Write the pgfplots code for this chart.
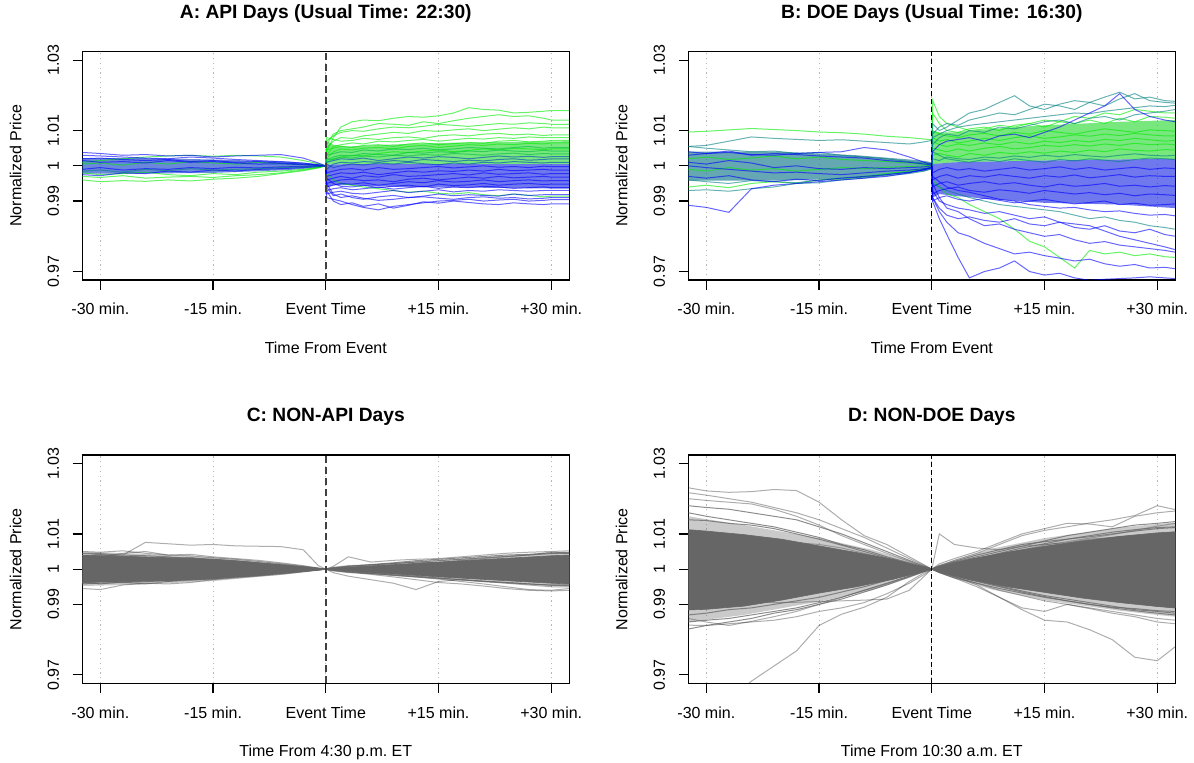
\documentclass[border=0pt]{standalone}
\usepackage{fontspec}
\setmainfont{Liberation Sans}
\usepackage{pgfplots}
\usepackage{pgfplotstable}
\pgfplotsset{compat=1.18}

\definecolor{cg}{RGB}{0,235,0}
\definecolor{cgt}{RGB}{0,190,64}
\definecolor{ct}{RGB}{0,128,128}
\definecolor{cbt}{RGB}{0,64,190}
\definecolor{cb}{RGB}{0,0,255}
\definecolor{fgreen}{RGB}{30,215,40}
\definecolor{fblue}{RGB}{15,30,225}
\definecolor{fpre}{RGB}{25,70,200}
\definecolor{fteal}{RGB}{20,120,140}

% ---------------- Panel A: pre-event (values: deviation from 1 in 1e-4) ----
\pgfplotstableread{
id  t1 t2 t3 t4 t5 t6 t7 t8 t9 t10 t11 t12 t13
x   -32.4 -30 -27 -24 -21 -18 -15 -12 -9 -6 -3 -1 0
pg1 -40 -45 -42 -44 -40 -43 -38 -35 -30 -22 -14 -6 0
pg2 -30 -33 -28 -35 -32 -30 -33 -28 -25 -20 -12 -5 0
pg3 10 15 20 25 28 30 27 30 28 25 15 6 0
pg4 -20 -25 -22 -18 -25 -28 -22 -25 -18 -15 -10 -4 0
pg5 5 8 2 10 5 12 8 5 10 6 4 2 0
pb1 38 35 30 32 28 30 25 28 30 32 22 8 0
pb2 30 28 25 22 20 25 22 18 15 12 8 3 0
pb3 -25 -28 -20 -22 -15 -18 -12 -15 -10 -8 -5 -2 0
pb4 15 10 12 8 15 10 12 8 5 6 3 1 0
pb5 -10 -5 -12 -8 -10 -5 -8 -4 -6 -3 -2 -1 0
pb6 20 22 18 15 18 12 15 10 12 8 5 2 0
pt1 -15 -12 -18 -10 -14 -8 -12 -10 -8 -5 -3 -1 0
}\rawApre
\pgfplotstabletranspose[colnames from=id]\Apre{\rawApre}

\pgfplotstableread{
id t1 t2 t3 t4 t5 t6 t7 t8 t9 t10 t11 t12 t13 t14 t15 t16 t17 t18 t19 t20
x 0 0.1 1 2 3.5 5 7 9 11 13 15 17 19 21 23 25 27 29 30 32.4
ag1 0 40 80 110 125 130 128 135 140 138 142 150 165 160 158 150 152 155 157 157
ag2 0 60 90 100 105 110 120 118 115 125 120 128 135 140 145 140 142 135 130 130
ag3 0 70 85 95 100 98 105 110 108 112 118 115 112 116 120 118 122 120 118 118
ag4 0 50 70 80 78 85 90 95 92 100 98 102 105 100 104 108 105 110 108 108
ag5 0 80 75 70 72 78 75 80 82 78 85 88 85 90 92 88 90 86 88 88
ag6 0 30 55 60 65 62 70 68 72 75 70 74 78 76 80 78 82 80 80 80
ag7 0 45 50 55 52 58 60 55 62 65 60 63 66 64 70 72 68 70 72 72
ag8 0 20 40 48 45 50 52 48 55 58 52 56 60 58 62 60 64 62 65 65
at1 0 30 35 40 38 45 42 48 46 50 45 48 52 50 48 52 55 50 52 52
at2 0 15 25 30 28 35 32 30 38 36 40 38 42 40 45 42 40 44 42 42
at3 0 20 18 25 22 28 25 30 28 32 30 35 33 30 34 36 32 35 34 34
at4 0 10 15 20 18 22 15 20 25 22 26 24 20 24 28 25 27 24 26 26
at5 0 -10 5 10 8 12 10 15 12 18 15 12 16 14 18 20 16 18 20 20
at6 0 5 -5 0 5 2 8 5 10 6 3 8 5 10 8 12 10 8 10 10
ab1 0 -20 -15 -10 -8 -12 -5 -10 -8 -5 -2 -6 -3 0 -4 -2 -5 -1 -2 -2
ab2 0 -30 -25 -20 -22 -18 -25 -20 -15 -18 -14 -16 -12 -15 -10 -14 -12 -10 -12 -12
ab3 0 -40 -35 -30 -35 -28 -32 -25 -30 -28 -25 -22 -26 -20 -24 -22 -20 -24 -22 -22
ab4 0 -50 -45 -40 -38 -42 -40 -45 -38 -35 -40 -36 -32 -35 -30 -34 -32 -30 -32 -32
ab5 0 -60 -55 -50 -52 -48 -55 -50 -45 -48 -42 -46 -44 -40 -45 -42 -40 -43 -42 -42
ab6 0 -35 -50 -58 -60 -55 -62 -58 -55 -60 -52 -56 -54 -50 -55 -52 -50 -53 -52 -52
ab7 0 -70 -65 -62 -68 -65 -60 -66 -62 -58 -64 -60 -62 -58 -60 -64 -62 -60 -62 -62
ab8 0 -80 -75 -72 -78 -80 -75 -70 -76 -72 -68 -74 -70 -72 -68 -70 -72 -70 -70 -70
ab9 0 -60 -85 -80 -90 -95 -88 -84 -90 -86 -80 -85 -82 -84 -86 -80 -84 -82 -82 -82
ab10 0 -90 -95 -100 -110 -118 -125 -115 -110 -105 -100 -98 -95 -100 -97 -95 -100 -98 -96 -96
ab11 0 -70 -100 -110 -105 -115 -108 -120 -112 -102 -106 -100 -104 -108 -110 -105 -108 -110 -108 -108
ab12 0 -50 -80 -90 -85 -92 -98 -95 -90 -88 -92 -95 -90 -88 -92 -90 -94 -92 -90 -90
agl1 0 -20 -40 -50 -55 -60 -65 -70 -75 -72 -78 -80 -76 -82 -85 -80 -84 -88 -86 -86
agl2 0 10 20 25 30 28 35 40 38 42 45 40 44 48 45 50 48 46 48 48
}\rawApost
\pgfplotstabletranspose[colnames from=id]\Apost{\rawApost}

% ---------------- Panel B ----------------
\pgfplotstableread{
id  t1 t2 t3 t4 t5 t6 t7 t8 t9 t10 t11 t12 t13
x   -32.4 -30 -27 -24 -21 -18 -15 -12 -9 -6 -3 -1 0
bgtop 96 98 102 106 103 100 96 94 90 84 80 76 74
bttop 55 58 70 82 78 75 72 74 70 66 62 68 72
bbbump 30 35 38 32 30 35 38 40 52 45 25 10 5
bblow -112 -118 -132 -65 -55 -50 -45 -40 -35 -30 -20 -10 -5
btlow -70 -68 -72 -65 -60 -50 -48 -40 -35 -25 -18 -10 -3
bglow -60 -55 -62 -50 -45 -50 -40 -38 -30 -22 -15 -8 -2
b1 40 35 42 30 35 32 28 25 22 15 10 5 2
b2 -30 -35 -28 -40 -45 -38 -42 -35 -30 -25 -18 -12 -5
b3 10 5 15 8 -5 0 -8 -10 -5 -8 -5 -3 0
g1 20 25 18 22 28 20 25 18 15 12 8 5 3
g2 -10 -15 -5 -12 -8 -15 -10 -5 -8 -4 -2 0 2
t1 55 50 45 40 42 35 38 30 25 20 12 8 4
t2 -40 -45 -50 -42 -45 -48 -40 -35 -32 -28 -22 -15 -8
b4 0 -5 -10 -15 -20 -18 -22 -25 -20 -15 -12 -8 -5
}\rawBpre
\pgfplotstabletranspose[colnames from=id]\Bpre{\rawBpre}

\pgfplotstableread{
id t1 t2 t3 t4 t5 t6 t7 t8 t9 t10 t11 t12 t13 t14 t15 t16 t17 t18 t19 t20
x 0 0.1 1 2 3.5 5 7 9 11 13 15 17 19 21 23 25 27 29 31 32.4
bpt1 0 120 100 110 130 150 160 180 199 170 160 175 185 180 170 190 205 185 180 178
bpt2 0 90 110 120 115 130 140 150 145 160 175 170 160 180 195 209 190 195 185 183
bpg1 0 186 140 120 110 100 105 115 110 120 130 125 140 135 150 145 160 155 150 150
bpg2 0 150 120 100 95 105 110 100 115 120 110 125 120 130 120 135 125 140 138 135
bpt3 0 60 80 90 85 100 95 110 105 115 125 130 120 135 140 130 145 150 155 160
bpb1 0 40 60 70 75 80 70 85 90 80 95 110 130 150 170 205 160 140 130 125
bpg3 0 100 90 85 80 88 92 85 95 90 100 95 90 98 105 100 95 102 100 98
bpg4 0 80 70 75 65 70 78 72 80 85 78 82 88 84 90 86 92 88 85 85
bpg5 0 70 60 55 62 58 65 60 68 62 70 66 72 68 75 72 78 74 70 72
bpg6 0 50 45 40 48 42 50 55 48 52 58 55 60 56 62 58 64 60 62 60
bpg7 0 30 35 30 25 35 30 38 34 40 36 42 38 45 40 48 44 42 46 45
bpt4 0 20 15 25 20 18 25 22 28 24 30 26 32 28 25 30 34 30 28 30
bpt5 0 40 30 20 15 10 18 12 20 15 10 18 14 20 16 12 18 22 20 18
bpt7 0 80 90 100 110 115 120 125 130 135 140 145 150 148 155 160 165 170 168 172
bpb2 0 -20 -10 -5 -12 -8 -15 -10 -5 -12 -8 -3 -10 -5 -12 -8 -4 -10 -6 -8
bpb3 0 -40 -30 -25 -35 -28 -32 -25 -30 -35 -28 -32 -26 -34 -30 -25 -32 -28 -30 -30
bpb4 0 -60 -50 -45 -55 -50 -45 -52 -48 -55 -60 -52 -58 -55 -50 -58 -55 -60 -56 -58
bpb5 0 -80 -70 -65 -60 -70 -75 -68 -72 -78 -70 -75 -80 -76 -82 -78 -85 -80 -82 -84
bpb6 0 -100 -90 -85 -95 -100 -92 -98 -105 -100 -95 -102 -108 -104 -100 -110 -106 -112 -110 -108
bpb8 0 -30 -45 -60 -70 -75 -85 -95 -100 -110 -115 -120 -118 -125 -130 -128 -135 -140 -138 -142
bpt6 0 -50 -60 -70 -80 -90 -100 -110 -115 -120 -125 -130 -140 -150 -145 -155 -160 -170 -175 -180
bpb7 0 -90 -120 -140 -150 -145 -155 -160 -150 -165 -170 -160 -175 -180 -170 -185 -190 -180 -195 -200
bpbx1 0 -100 -150 -195 -260 -318 -300 -290 -270 -300 -310 -305 -318 -325 -322 -320 -318 -315 -318 -320
bpbx2 0 -90 -130 -160 -190 -200 -220 -235 -250 -245 -255 -262 -270 -265 -278 -285 -280 -290 -288 -292
bpgx 0 -40 -60 -80 -90 -110 -130 -150 -180 -214 -230 -260 -290 -240 -250 -245 -255 -250 -258 -260
bpbx3 0 -50 -90 -120 -130 -150 -170 -165 -180 -190 -200 -195 -210 -220 -215 -225 -230 -235 -240 -245
bpbx4 0 -70 -100 -110 -120 -125 -135 -130 -140 -150 -145 -160 -165 -170 -185 -200 -210 -220 -230 -238
}\rawBpost
\pgfplotstabletranspose[colnames from=id]\Bpost{\rawBpost}

% ---------------- Panel C ----------------
\pgfplotstableread{
id t1 t2 t3 t4 t5 t6 t7 t8 t9 t10 t11 t12 t13 t14 t15 t16 t17 t18 t19 t20 t21 t22 t23 t24 t25
x -32.4 -30 -27 -24 -21 -18 -15 -12 -9 -6 -3 -1 0 1 3 6 9 12 15 18 21 24 27 30 32.4
c1 35 38 40 76 72 68 70 66 65 64 55 10 0 5 10 12 15 20 18 22 25 28 30 32 32
c2 -55 -58 -45 -40 -42 -38 -30 -25 -20 -15 -8 -3 0 -3 -8 -15 -22 -30 -38 -42 -48 -55 -60 -62 -60
c3 50 48 52 45 40 42 35 30 25 18 10 3 0 8 35 20 25 28 30 35 40 45 48 50 52
c4 -20 -25 -22 -30 -35 -28 -25 -20 -15 -10 -5 -2 0 -10 -20 -30 -40 -58 -35 -30 -35 -40 -45 -50 -50
c5 30 35 45 50 40 38 32 28 22 15 8 3 0 3 5 8 10 15 18 25 30 35 40 48 45
c6 -40 -35 -38 -42 -35 -32 -28 -22 -18 -12 -6 -2 0 -5 -10 -12 -18 -22 -28 -35 -42 -50 -58 -60 -55
cf1 45 44 40 38 35 30 28 24 18 12 6 2 0 4 8 12 16 20 24 28 32 36 40 44 45
cf2 -42 -40 -38 -36 -32 -30 -28 -22 -18 -12 -6 -2 0 -4 -8 -13 -17 -22 -26 -30 -34 -38 -42 -46 -46
cf3 38 42 36 34 30 33 26 22 16 10 5 2 0 -3 -7 -12 -16 -20 -25 -30 -35 -38 -42 -45 -45
cf4 -38 -42 -36 -33 -30 -28 -25 -20 -16 -10 -5 -2 0 3 8 13 18 24 28 32 36 40 42 46 48
}\rawC
\pgfplotstabletranspose[colnames from=id]\Cdat{\rawC}

% ---------------- Panel D ----------------
\pgfplotstableread{
id t1 t2 t3 t4 t5 t6 t7 t8 t9 t10 t11 t12 t13 t14 t15 t16 t17 t18 t19 t20 t21 t22 t23 t24 t25
x -32.4 -30 -27 -24 -21 -18 -15 -12 -9 -6 -3 -1 0 1 3 6 9 12 15 18 21 24 27 30 32.4
d1 231 222 218 220 226 223 190 140 95 70 35 12 0 5 10 15 20 25 30 28 35 40 38 45 42
d2 -420 -400 -370 -318 -275 -232 -160 -128 -108 -80 -35 -10 0 -3 -8 -12 -20 -25 -30 -28 -35 -40 -45 -42 -44
d3 -159 -160 -155 -150 -145 -135 -120 -110 -95 -70 -40 -15 0 -5 -12 -20 -28 -35 -42 -50 -55 -60 -65 -70 -72
d4 -90 -95 -92 -90 -95 -94 -92 -90 -88 -85 -60 -20 0 5 10 8 12 15 10 18 20 15 22 25 20
d5 60 55 50 45 48 40 35 30 22 15 8 3 0 -8 -20 -45 -80 -115 -145 -150 -172 -200 -250 -260 -220
d6 -50 -45 -40 -42 -38 -35 -30 -25 -20 -14 -8 -3 0 10 25 45 70 95 110 120 131 140 152 180 169
d7 20 25 30 28 25 20 15 12 10 6 3 1 0 15 30 50 75 100 115 130 128 120 150 160 165
d8 -60 -65 -55 -50 -45 -40 -35 -28 -20 -12 -6 -2 0 100 70 60 55 65 70 75 85 90 95 100 105
d9 217 210 200 190 175 160 140 115 90 60 30 10 0 -5 -12 -20 -30 -40 -55 -65 -75 -85 -95 -105 -110
d10 100 95 90 85 80 75 70 60 45 30 15 5 0 -10 -25 -50 -80 -110 -120 -100 -110 -120 -130 -140 -145
d11 200 195 190 185 170 150 125 95 70 45 22 7 0 8 18 30 42 55 68 78 88 98 110 122 130
d12 -140 -150 -160 -148 -135 -120 -100 -80 -60 -42 -20 -6 0 -10 -25 -40 -60 -75 -90 -100 -112 -125 -135 -150 -155
df1 180 175 170 160 150 140 120 100 75 50 25 8 0 8 20 35 50 65 80 95 105 115 125 130 135
df2 160 150 140 130 120 105 90 70 55 35 18 6 0 -8 -20 -35 -50 -65 -78 -90 -100 -110 -118 -125 -130
df3 -150 -145 -140 -130 -120 -110 -95 -80 -60 -40 -20 -6 0 6 18 30 45 60 72 85 95 105 112 118 120
df4 -130 -125 -115 -110 -100 -90 -80 -65 -50 -32 -15 -5 0 -6 -18 -32 -48 -62 -75 -85 -95 -105 -115 -120 -125
df5 140 138 130 125 115 100 85 68 50 32 15 5 0 10 22 40 55 70 78 85 92 100 108 115 118
df6 -170 -160 -150 -140 -125 -115 -100 -85 -65 -45 -22 -7 0 -8 -22 -40 -55 -68 -80 -90 -100 -108 -112 -118 -120
}\rawD
\pgfplotstabletranspose[colnames from=id]\Ddat{\rawD}

% ---------------- dense cores (polygons) ----------------
\pgfplotstableread{
x y
-32.4 22
-25 22
-15 18
-5 12
-1 5
0 0
-1 -5
-5 -12
-15 -20
-25 -22
-32.4 -22
}\polyApre
\pgfplotstableread{
x y
0 0
0.1 70
1 60
3 55
8 60
15 65
25 68
32.4 70
32.4 5
15 5
3 5
0.1 3
}\polyAg
\pgfplotstableread{
x y
0 0
0.1 3
3 5
15 5
32.4 5
32.4 -65
20 -62
10 -60
3 -55
1 -55
0.1 -60
}\polyAb
\pgfplotstableread{
x y
-32.4 40
-20 40
-10 30
-3 18
-1 14
0 10
0 -10
-1 -15
-3 -20
-10 -35
-20 -42
-32.4 -42
}\polyBpre
\pgfplotstableread{
x y
0 5
0.1 100
1 95
3 95
8 105
15 115
25 125
32.4 130
32.4 20
15 15
3 10
0.1 5
}\polyBg
\pgfplotstableread{
x y
0 5
0.1 5
3 10
15 15
32.4 20
32.4 -120
25 -110
15 -105
8 -95
3 -85
1 -80
0.1 -90
0 -10
}\polyBb
\pgfplotstableread{
x y
-32.4 40
-30 38
-20 32
-15 28
-10 20
-5 11
-2 5
0 0
2 4
5 8
10 14
15 20
20 26
25 32
30 38
32.4 40
32.4 -42
30 -40
25 -34
20 -28
15 -22
10 -15
5 -9
2 -4
0 0
-2 -5
-5 -11
-10 -20
-15 -27
-20 -32
-30 -37
-32.4 -38
}\polyC
\pgfplotstableread{
x y
-32.4 50
-25 44
-15 34
-5 15
0 0
5 12
15 27
25 40
32.4 48
32.4 -50
25 -42
15 -29
5 -12
0 0
-5 -14
-15 -34
-25 -44
-32.4 -48
}\haloC
\pgfplotstableread{
x y
-32.4 112
-30 108
-25 98
-20 85
-15 66
-10 47
-5 27
-2 11
0 0
2 12
5 28
10 48
15 65
20 80
25 93
30 103
32.4 106
32.4 -110
30 -106
25 -95
20 -82
15 -66
10 -50
5 -30
2 -12
0 0
-2 -12
-5 -28
-10 -50
-15 -68
-20 -88
-25 -105
-30 -114
-32.4 -116
}\polyD
\pgfplotstableread{
x y
-32.4 150
-25 125
-15 88
-8 55
-3 24
0 0
3 26
8 58
15 88
25 118
30 128
32.4 132
32.4 -135
30 -130
25 -118
15 -88
8 -58
3 -26
0 0
-3 -25
-8 -60
-15 -92
-25 -130
-32.4 -150
}\haloD

\newcommand{\tfont}{\fontsize{8}{9.6}\selectfont}
\pgfplotsset{
  panel/.style={
    scale only axis, width=243.5pt, height=114.15pt,
    xmin=-32.4, xmax=32.4, ymin=0.9676, ymax=1.0324,
    xtick={-30,-15,0,15,30},
    xticklabels={-30 min., -15 min., Event Time, +15 min., +30 min.},
    ytick={0.97,0.99,1,1.01,1.03},
    yticklabels={0.97,0.99,1,1.01,1.03},
    tick align=outside, major tick length=4.8pt, tick pos=left,
    tick style={black, line width=0.6pt},
    axis line style={black, line width=0.65pt},
    tick label style={font=\tfont},
    xticklabel style={anchor=base}, xticklabel shift=12.6pt,
    yticklabel style={rotate=90, anchor=base}, yticklabel shift=6.9pt,
    xmajorgrids, grid style={black!28, line width=0.5pt, dash pattern=on 0.6pt off 1.8pt},
    no markers,
    every axis title/.style={at={(axis description cs:0.5,1.1678)}, anchor=center, font=\bfseries\fontsize{9.6}{11.5}\selectfont},
    every axis x label/.style={at={(axis description cs:0.5,-0.3225)}, anchor=base, font=\tfont},
    every axis y label/.style={at={(axis description cs:-0.137,0.5)}, rotate=90, anchor=center, font=\tfont},
    ylabel={Normalized Price},
  },
  lg/.style={draw=cg, draw opacity=0.6, line width=0.5pt},
  lgt/.style={draw=cgt, draw opacity=0.6, line width=0.5pt},
  lt/.style={draw=ct, draw opacity=0.6, line width=0.5pt},
  lbt/.style={draw=cbt, draw opacity=0.6, line width=0.5pt},
  lb/.style={draw=cb, draw opacity=0.6, line width=0.5pt},
  ll/.style={draw=black, draw opacity=0.32, line width=0.5pt},
  lf/.style={draw=black!60, draw opacity=0.75, line width=0.5pt},
  evA/.style={black!75, line width=1pt, dash pattern=on 3.5pt off 2pt},
  evB/.style={black, line width=0.55pt, dash pattern=on 2.6pt off 1.4pt},
}

\begin{document}
\begin{tikzpicture}
\useasboundingbox (0,0) rectangle (597pt,381.5pt);

% ================= A =================
\begin{axis}[panel, at={(41.15pt,241.5pt)}, anchor=south west,
  title={A: API Days (Usual Time: 22:30)}, xlabel={Time From Event}]
\addplot[fill=fpre, fill opacity=0.65, draw=none] table[x=x, y expr=1+\thisrow{y}/10000]{\polyApre};
\addplot[fill=fgreen, fill opacity=0.6, draw=none] table[x=x, y expr=1+\thisrow{y}/10000]{\polyAg};
\addplot[fill=fblue, fill opacity=0.6, draw=none] table[x=x, y expr=1+\thisrow{y}/10000]{\polyAb};
\pgfplotsinvokeforeach{pg1,pg2,pg3,pg4,pg5}{\addplot[lg] table[x=x, y expr=1+\thisrow{#1}/10000]{\Apre};}
\pgfplotsinvokeforeach{pb1,pb2,pb3,pb4,pb5,pb6}{\addplot[lb] table[x=x, y expr=1+\thisrow{#1}/10000]{\Apre};}
\addplot[lt] table[x=x, y expr=1+\thisrow{pt1}/10000]{\Apre};
\pgfplotsinvokeforeach{ag1,ag2,ag3,ag4,ag5,ag6,ag7,ag8,agl1,agl2}{\addplot[lg] table[x=x, y expr=1+\thisrow{#1}/10000]{\Apost};}
\pgfplotsinvokeforeach{at1,at2,at3}{\addplot[lgt] table[x=x, y expr=1+\thisrow{#1}/10000]{\Apost};}
\pgfplotsinvokeforeach{at4,at5,at6}{\addplot[lbt] table[x=x, y expr=1+\thisrow{#1}/10000]{\Apost};}
\pgfplotsinvokeforeach{ab1,ab2,ab3,ab4,ab5,ab6,ab7,ab8,ab9,ab10,ab11,ab12}{\addplot[lb] table[x=x, y expr=1+\thisrow{#1}/10000]{\Apost};}
\addplot[evA] coordinates {(0,0.9676) (0,1.0324)};
\end{axis}

% ================= B =================
\begin{axis}[panel, at={(344.15pt,241.5pt)}, anchor=south west,
  title={B: DOE Days (Usual Time: 16:30)}, xlabel={Time From Event}]
\addplot[fill=fteal, fill opacity=0.65, draw=none] table[x=x, y expr=1+\thisrow{y}/10000]{\polyBpre};
\addplot[fill=fgreen, fill opacity=0.6, draw=none] table[x=x, y expr=1+\thisrow{y}/10000]{\polyBg};
\addplot[fill=fblue, fill opacity=0.6, draw=none] table[x=x, y expr=1+\thisrow{y}/10000]{\polyBb};
\pgfplotsinvokeforeach{bgtop,bglow,g1,g2}{\addplot[lg] table[x=x, y expr=1+\thisrow{#1}/10000]{\Bpre};}
\pgfplotsinvokeforeach{bttop,btlow,t1,t2}{\addplot[lt] table[x=x, y expr=1+\thisrow{#1}/10000]{\Bpre};}
\pgfplotsinvokeforeach{bbbump,bblow,b1,b2,b3,b4}{\addplot[lb] table[x=x, y expr=1+\thisrow{#1}/10000]{\Bpre};}
\pgfplotsinvokeforeach{bpg1,bpg2,bpg3,bpg4,bpg5,bpg6,bpg7,bpgx}{\addplot[lg] table[x=x, y expr=1+\thisrow{#1}/10000]{\Bpost};}
\pgfplotsinvokeforeach{bpt1,bpt2,bpt3,bpt4,bpt5,bpt6,bpt7}{\addplot[lt] table[x=x, y expr=1+\thisrow{#1}/10000]{\Bpost};}
\pgfplotsinvokeforeach{bpb1,bpb2,bpb3,bpb4,bpb5,bpb6,bpb7,bpb8,bpbx1,bpbx2,bpbx3,bpbx4}{\addplot[lb] table[x=x, y expr=1+\thisrow{#1}/10000]{\Bpost};}
\addplot[evB] coordinates {(0,0.9676) (0,1.0324)};
\end{axis}

% ================= C =================
\begin{axis}[panel, at={(41.15pt,39.85pt)}, anchor=south west,
  title={C: NON-API Days}, xlabel={Time From 4:30 p.m.\ ET}]
\pgfplotsinvokeforeach{c1,c2,c3,c4,c5,c6}{\addplot[ll] table[x=x, y expr=1+\thisrow{#1}/10000]{\Cdat};}
\addplot[fill=black!60, fill opacity=0.35, draw=none] table[x=x, y expr=1+\thisrow{y}/10000]{\haloC};
\pgfplotsinvokeforeach{cf1,cf2,cf3,cf4}{\addplot[lf] table[x=x, y expr=1+\thisrow{#1}/10000]{\Cdat};}
\addplot[fill=black!60, draw=black!60, line width=0.3pt] table[x=x, y expr=1+\thisrow{y}/10000]{\polyC};
\addplot[evA] coordinates {(0,0.9676) (0,1.0324)};
\end{axis}

% ================= D =================
\begin{axis}[panel, at={(344.15pt,39.85pt)}, anchor=south west,
  title={D: NON-DOE Days}, xlabel={Time From 10:30 a.m.\ ET}]
\pgfplotsinvokeforeach{d1,d2,d3,d4,d5,d6,d7,d8,d9,d10,d11,d12}{\addplot[ll] table[x=x, y expr=1+\thisrow{#1}/10000]{\Ddat};}
\addplot[fill=black!60, fill opacity=0.35, draw=none] table[x=x, y expr=1+\thisrow{y}/10000]{\haloD};
\pgfplotsinvokeforeach{df1,df2,df3,df4,df5,df6}{\addplot[lf] table[x=x, y expr=1+\thisrow{#1}/10000]{\Ddat};}
\addplot[fill=black!60, draw=black!60, line width=0.3pt] table[x=x, y expr=1+\thisrow{y}/10000]{\polyD};
\addplot[evB] coordinates {(0,0.9676) (0,1.0324)};
\end{axis}
\end{tikzpicture}
\end{document}
